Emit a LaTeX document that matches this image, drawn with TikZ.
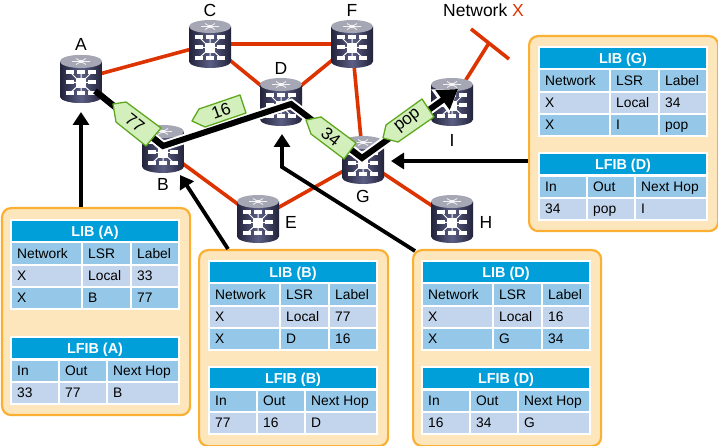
\documentclass[tikz,border=0pt]{standalone}
\usepackage{fontspec}
\setmainfont{Liberation Sans}
\usetikzlibrary{arrows.meta}
\definecolor{netred}{HTML}{DD3300}
\definecolor{hdrblue}{HTML}{009FDA}
\definecolor{midblue}{HTML}{95C8E8}
\definecolor{lightblue}{HTML}{C3D5EC}
\definecolor{panelfill}{HTML}{FDE6BC}
\definecolor{panelline}{HTML}{FBB034}
\definecolor{tagfill}{HTML}{D3EFBC}
\definecolor{tagline}{HTML}{5FA81E}
\definecolor{rdark}{HTML}{22223A}
\definecolor{rmid}{HTML}{5C5F85}
\definecolor{rtop}{HTML}{A6A7B4}
\newcounter{cellno}
\tikzset{
  link/.style={draw=netred,line width=3.6pt},
  lsp/.style={draw=black,line width=6pt,line join=miter},
  halo/.style={draw=white,line width=10pt,line join=miter},
  pointer/.style={draw=black,line width=3.8pt,-{Triangle[length=13pt,width=16pt]}},
  rlabel/.style={font=\fontsize{17.5}{20}\selectfont,inner sep=0pt},
  tag/.style={draw=tagline,fill=tagfill,line width=1.3pt,line join=round},
  tagtext/.style={font=\fontsize{17}{20}\selectfont,inner sep=0pt},
  panel/.style={draw=panelline,fill=panelfill,line width=2.2pt,rounded corners=9pt,inner sep=0pt,anchor=north west},
  celltext/.style={anchor=west,inner xsep=5pt,inner ysep=0pt,text height=9.9pt,text depth=0pt,font=\fontsize{13.8}{16}\selectfont},
  hdrtext/.style={inner sep=0pt,text=white,text height=10.3pt,text depth=0pt,font=\fontsize{14.4}{16}\selectfont\bfseries},
  router/.pic={
    \path[left color=rdark,right color=rdark,middle color=rmid]
      (-21,17.5) arc[x radius=21pt,y radius=6.5pt,start angle=180,end angle=360]
      -- (21,-17.5) -- (-21,-17.5) -- cycle;
    \path[fill=rtop] (0,-17.5) ellipse[x radius=21pt,y radius=6.5pt];
    \draw[white!85!rtop,line width=.8pt] (-9,-17.5) -- (9,-17.5) (-5,-20.5) -- (5,-14.5) (5,-20.5) -- (-5,-14.5);
    \fill[white!90!rtop] (0,-17.5) ellipse[x radius=3pt,y radius=1.5pt];
    \draw[white,line width=1pt]
      (0,4) -- (-11,-7) (0,4) -- (0,-7) (0,4) -- (11,-7)
      (0,4) -- (-11,3) (0,4) -- (11,3)
      (0,4) -- (-11,14) (0,4) -- (0,14) (0,4) -- (11,14);
    \fill[white] (-5,-1) rectangle (5,9);
    \foreach \px/\py in {-11/-7,0/-7,11/-7,-11/3,11/3,-11/14,0/14,11/14}
      \fill[white] (\px-3.7,\py-2.2) rectangle (\px+3.7,\py+2.2);
  }
}
% x1 x2 y1 y2 fill text
\newcommand{\tcell}[6]{%
  \stepcounter{cellno}%
  \fill[#5] (#1,#3) rectangle (#2,#4);
  \node[celltext] (cell\thecellno) at (#1,{(#3+#4)/2}) {#6};
}
% position, title, label1, lsr2, label2
\newcommand{\libtable}[5]{%
\begin{scope}[shift={#1}]
  \fill[white] (-1.8,-1.8) rectangle (167.8,88.8);
  \fill[hdrblue] (0,0) rectangle (166,20);
  \stepcounter{cellno}%
  \node[hdrtext] (cell\thecellno) at (83,10) {#2};
  \tcell{0}{69}{22}{43}{midblue}{Network}
  \tcell{71}{118}{22}{43}{midblue}{LSR}
  \tcell{120}{166}{22}{43}{midblue}{Label}
  \tcell{0}{69}{45}{65}{lightblue}{X}
  \tcell{71}{118}{45}{65}{lightblue}{Local}
  \tcell{120}{166}{45}{65}{lightblue}{#3}
  \tcell{0}{69}{67}{87}{midblue}{X}
  \tcell{71}{118}{67}{87}{midblue}{#4}
  \tcell{120}{166}{67}{87}{midblue}{#5}
\end{scope}}
% position, title, in, out, next hop
\newcommand{\lfibtable}[5]{%
\begin{scope}[shift={#1}]
  \fill[white] (-1.8,-1.8) rectangle (167.8,66.8);
  \fill[hdrblue] (0,0) rectangle (166,20);
  \stepcounter{cellno}%
  \node[hdrtext] (cell\thecellno) at (83,10) {#2};
  \tcell{0}{46}{23}{43}{midblue}{In}
  \tcell{48}{94}{23}{43}{midblue}{Out}
  \tcell{96}{166}{23}{43}{midblue}{Next Hop}
  \tcell{0}{46}{45}{65}{lightblue}{#3}
  \tcell{48}{94}{45}{65}{lightblue}{#4}
  \tcell{96}{166}{45}{65}{lightblue}{#5}
\end{scope}}
\begin{document}
\begin{tikzpicture}[x=1pt,y=-1pt]
\useasboundingbox (0,0) rectangle (718,446);
% router positions
\coordinate (A) at (81,79);
\coordinate (B) at (163,149);
\coordinate (C) at (210,44);
\coordinate (D) at (281,102);
\coordinate (E) at (258,219);
\coordinate (F) at (352,44);
\coordinate (G) at (363,160);
\coordinate (H) at (452,219);
\coordinate (I) at (452,102);
% network X stub
\coordinate (stub) at (489,43);
\coordinate (barL) at (471,29);
\coordinate (barR) at (509,59);
% red links
\draw[link] (A) -- (C);
\draw[link] (C) -- (F);
\draw[link] (C) -- (D);
\draw[link] (D) -- (F);
\draw[link] (F) -- (G);
\draw[link] (B) -- (E);
\draw[link] (E) -- (G);
\draw[link] (G) -- (H);
\draw[link] (I) -- (stub);
\draw[link] (barL) -- (barR);
% routers
\foreach \r in {A,B,C,D,E,F,G,H,I} \pic at (\r) {router};
% labels
\node[rlabel] (lA) at (81,44) {A};
\node[rlabel] (lB) at (163,184) {B};
\node[rlabel] (lC) at (210,10) {C};
\node[rlabel] (lD) at (281,68) {D};
\node[rlabel] (lE) at (291,222) {E};
\node[rlabel] (lF) at (352,10) {F};
\node[rlabel] (lG) at (363,196) {G};
\node[rlabel] (lH) at (486,222) {H};
\node[rlabel] (lI) at (452,140) {I};
\node[rlabel] (netx) at (483.5,10) {Network \textcolor{netred}{X}};
% label switched path
\coordinate (bendB) at (163,146);
\coordinate (bendD) at (291,104);
\coordinate (bendG) at (362,158);
\coordinate (tipI) at (458,89);
\draw[halo,-{Triangle[length=22pt,width=29pt]}] (A) -- (bendB) -- (bendD) -- (bendG) -- (tipI);
\draw[lsp,-{Triangle[length=19pt,width=23pt]}] (A) -- (bendB) -- (bendD) -- (bendG) -- (tipI);
\pic at (A) {router};
\draw[lsp] (95,91) -- (bendB);
% label tags
\draw[tag] (113,104) -- (126,102) -- (161,128) -- (146,146) -- (116,122) -- cycle;
\node[tagtext,rotate=-38] (t77) at (135,123) {77};
\draw[tag] (192,121) -- (199,109) -- (240,95) -- (246,113) -- (205,127) -- cycle;
\node[tagtext,rotate=20] (t16) at (221,111) {16};
\draw[tag] (306,120) -- (321,117) -- (356,143) -- (344,159) -- (311,134) -- cycle;
\node[tagtext,rotate=-38] (t34) at (331,137) {34};
\draw[tag] (383,138) -- (386,125) -- (422,99) -- (434,117) -- (398,142) -- cycle;
\node[tagtext,rotate=38] (tpop) at (408,121) {pop};
% panels
\node[panel,minimum width=188pt,minimum height=207pt] (pA) at (1,207) {};
\node[panel,minimum width=189pt,minimum height=196pt] (pB) at (198,249) {};
\node[panel,minimum width=188pt,minimum height=196pt] (pD) at (412,249) {};
\node[panel,minimum width=189pt,minimum height=195pt] (pG) at (528,35) {};
% pointers
\coordinate (tipA) at (81,112);
\coordinate (tipB) at (180,175);
\coordinate (tipD) at (282,134);
\coordinate (kneeD) at (282,167);
\coordinate (tipG) at (391,161);
\coordinate (fromB) at (228,249);
\coordinate (fromD) at (415,251);
\coordinate (fromG) at (528,161);
\draw[pointer] (A |- pA.north) -- (tipA);
\draw[pointer] (fromB) -- (tipB);
\draw[pointer] (fromD) -- (kneeD) -- (tipD);
\draw[pointer] (fromG) -- (tipG);
% tables
\libtable{(12,221)}{LIB (A)}{33}{B}{77}
\lfibtable{(12,338)}{LFIB (A)}{33}{77}{B}
\libtable{(210,262)}{LIB (B)}{77}{D}{16}
\lfibtable{(210,368)}{LFIB (B)}{77}{16}{D}
\libtable{(423,262)}{LIB (D)}{16}{G}{34}
\lfibtable{(423,368)}{LFIB (D)}{16}{34}{G}
\libtable{(540,48)}{LIB (G)}{34}{I}{pop}
\lfibtable{(540,154)}{LFIB (D)}{34}{pop}{I}
\end{tikzpicture}
\end{document}
